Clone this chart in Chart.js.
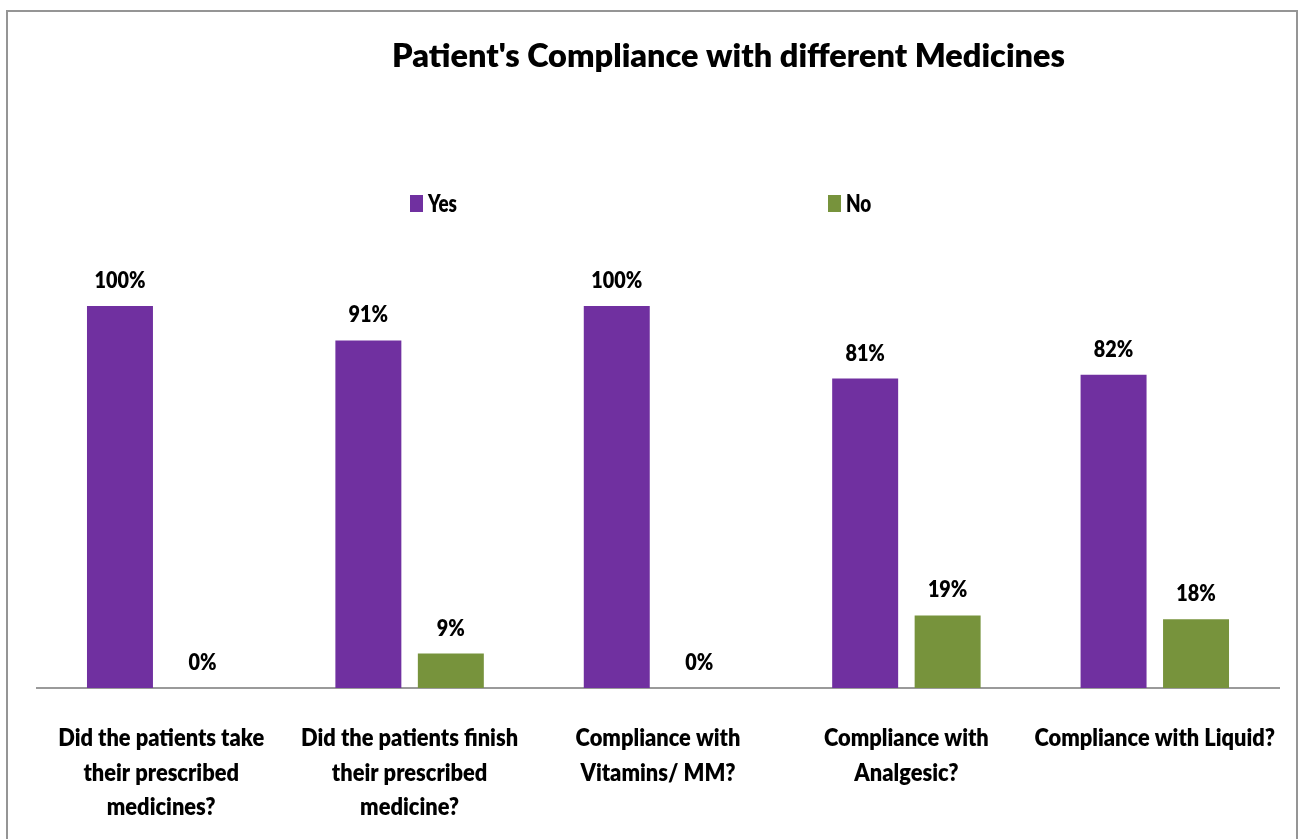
<!DOCTYPE html>
<html>
<head>
<meta charset="utf-8">
<title>Patient's Compliance with different Medicines</title>
<script src="https://cdn.jsdelivr.net/npm/chart.js@4.4.1/dist/chart.umd.min.js"></script>
<style>
  html, body { margin: 0; padding: 0; background: #fff; }
  #chart { display: block; }
</style>
</head>
<body>
<canvas id="chart" width="1304" height="839"></canvas>
<script>
/* ---- data ---- */
const chartTitle = "Patient's Compliance with different Medicines";
const categories = [
  ["Did the patients take", "their prescribed", "medicines?"],
  ["Did the patients finish", "their prescribed", "medicine?"],
  ["Compliance with", "Vitamins/ MM?"],
  ["Compliance with", "Analgesic?"],
  ["Compliance with Liquid?"]
];
const seriesNames = ["Yes", "No"];
const yesValues = [100, 91, 100, 81, 82];
const noValues  = [0, 9, 0, 19, 18];

const COLORS = { yes: "#7030A0", no: "#77933C", axis: "#9a9a9a", frame: "#959595", text: "#000" };
const FAMILY = "Lato";
const FONT = (size) => `800 ${size}px ${FAMILY}, "Open Sans", sans-serif`;

/* The original uses a squeezed Calibri-like face; we squeeze Lato
   horizontally so each text block keeps roughly the original width. */
const measureCtx = document.createElement("canvas").getContext("2d");
function squeeze(sample, size, targetWidth) {
  measureCtx.font = FONT(size);
  return targetWidth / measureCtx.measureText(sample).width;
}
const TXT = {
  title:  { size: 32, sx: squeeze(chartTitle, 32, 673) },
  legend: { size: 25, sx: squeeze("Yes", 25, 29) },
  value:  { size: 23, sx: squeeze("100%", 23, 51) },
  cat:    { size: 25, sx: squeeze("Did the patients take", 25, 206) }
};

function drawText(ctx, text, x, y, style, align) {
  ctx.save();
  ctx.font = FONT(style.size);
  ctx.textAlign = align || "center";
  ctx.textBaseline = "alphabetic";
  ctx.translate(x, y);
  ctx.scale(style.sx, 1);
  ctx.fillText(text, 0, 0);
  ctx.restore();
}

/* ---- frame, title, legend, value and category labels ---- */
const decorations = {
  id: "decorations",
  afterDatasetsDraw(chart) {
    const ctx = chart.ctx;
    const xScale = chart.scales.x;
    ctx.save();

    // outer frame (bottom edge runs off the picture)
    ctx.strokeStyle = COLORS.frame;
    ctx.lineWidth = 2;
    ctx.beginPath();
    ctx.moveTo(7, 845);
    ctx.lineTo(7, 11);
    ctx.lineTo(1297, 11);
    ctx.lineTo(1297, 845);
    ctx.stroke();

    ctx.fillStyle = COLORS.text;
    drawText(ctx, chartTitle, 728.5, 67, TXT.title);

    // legend, wide spacing like the original
    const legendPos = [410, 828];
    chart.data.datasets.forEach((ds, i) => {
      const x = legendPos[i];
      ctx.fillStyle = ds.backgroundColor;
      ctx.fillRect(x, 195, 13, 17);
      ctx.fillStyle = COLORS.text;
      drawText(ctx, ds.label, x + 18, 212, TXT.legend, "left");
    });

    // value labels above bars
    chart.data.datasets.forEach((ds, i) => {
      chart.getDatasetMeta(i).data.forEach((bar, j) => {
        drawText(ctx, ds.data[j] + "%", bar.x, bar.y - 18, TXT.value);
      });
    });

    // category labels under the axis
    chart.data.labels.forEach((lines, i) => {
      const cx = xScale.getPixelForValue(i);
      lines.forEach((line, k) => {
        drawText(ctx, line, cx, 746 + k * 34.5, TXT.cat);
      });
    });
    ctx.restore();
  }
};

new Chart(document.getElementById("chart"), {
  type: "bar",
  data: {
    labels: categories,
    datasets: [
      { label: seriesNames[0], data: yesValues, backgroundColor: COLORS.yes },
      { label: seriesNames[1], data: noValues,  backgroundColor: COLORS.no }
    ]
  },
  options: {
    responsive: false,
    devicePixelRatio: 1,
    animation: false,
    layout: { padding: { top: 306, left: 37, right: 25, bottom: 0 } },
    datasets: { bar: { categoryPercentage: 0.664, barPercentage: 0.8 } },
    plugins: {
      legend: { display: false },
      title: { display: false },
      tooltip: { enabled: false }
    },
    scales: {
      x: {
        grid: { display: false, drawTicks: false },
        border: { display: true, color: COLORS.axis, width: 2 },
        ticks: { display: false },
        afterFit(scale) { scale.height = 151; }
      },
      y: { display: false, min: 0, max: 100 }
    }
  },
  plugins: [decorations]
});
</script>
</body>
</html>
